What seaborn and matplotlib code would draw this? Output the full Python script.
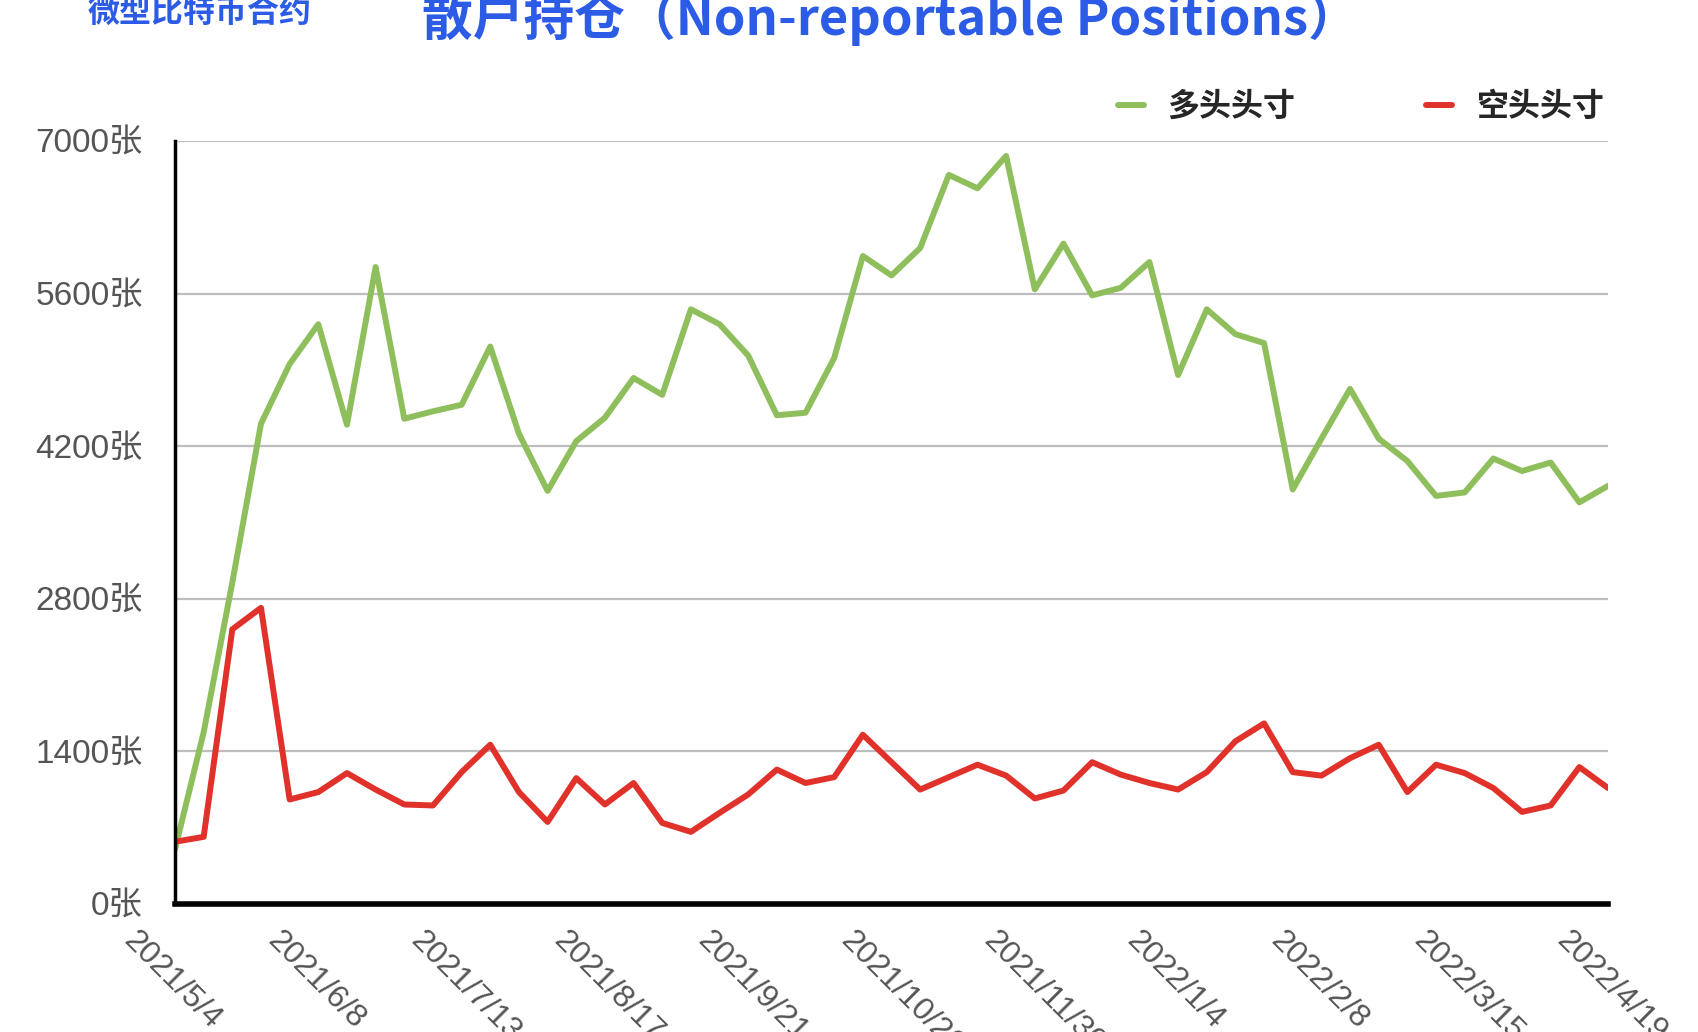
import matplotlib
matplotlib.use('Agg')
import matplotlib.pyplot as plt
import matplotlib.transforms as mtransforms
from matplotlib.lines import Line2D
import seaborn as sns
import pandas as pd

# weekly report dates, 2021/5/4 .. 2022/4/19
dates = pd.date_range('2021-05-04', periods=51, freq='7D')

long_pos = [502, 1575, 2950, 4406, 4954, 5319, 4397, 5844, 4452, 4520,
            4580, 5114, 4315, 3790, 4246, 4461, 4826, 4671, 5456, 5319,
            5032, 4484, 4507, 5009, 5945, 5767, 6018, 6689, 6566, 6863,
            5639, 6059, 5584, 5653, 5890, 4853, 5456, 5228, 5146, 3803,
            4269, 4726, 4269, 4064, 3744, 3776, 4087, 3972, 4050, 3685,
            3836]

short_pos = [571, 616, 2520, 2717, 959, 1027, 1201, 1050, 913, 904,
             1210, 1461, 1027, 753, 1155, 913, 1110, 744, 662, 836,
             1005, 1233, 1110, 1164, 1553, 1301, 1050, 1164, 1278, 1178,
             968, 1041, 1301, 1187, 1110, 1050, 1210, 1493, 1657, 1210,
             1178, 1338, 1461, 1027, 1278, 1201, 1064, 845, 904, 1256,
             1064]

series_names = ['多头头寸', '空头头寸']
series_colors = ['#8fbf5c', '#e0322a']

tick_labels = ['2021/5/4', '2021/6/8', '2021/7/13', '2021/8/17', '2021/9/21',
               '2021/10/26', '2021/11/30', '2022/1/4', '2022/2/8', '2022/3/15',
               '2022/4/19']
y_ticks = [0, 1400, 2800, 4200, 5600, 7000]

df = pd.DataFrame({
    'date': list(dates) * 2,
    'value': long_pos + short_pos,
    'series': [series_names[0]] * len(dates) + [series_names[1]] * len(dates),
})

sns.set_style('white')
plt.rcParams['font.family'] = ['Noto Sans CJK SC', 'DejaVu Sans']
tick_font = ['Liberation Sans', 'Noto Sans CJK SC']

fig = plt.figure(figsize=(16.98, 10.32), dpi=100)
ax = fig.add_axes([175 / 1698, 1 - 904 / 1032, (1608 - 175) / 1698, (904 - 141) / 1032])

sns.lineplot(data=df, x='date', y='value', hue='series', palette=series_colors,
             linewidth=4.3, ax=ax, legend=False)

ax.set_xlim(dates[0], dates[-1])
ax.set_ylim(0, 7000)
ax.set_yticks(y_ticks)
ax.set_yticklabels([f'{v}张' for v in y_ticks])
ax.set_xticks(dates[::5])
ax.set_xticklabels(tick_labels)
ax.set_xlabel('')
ax.set_ylabel('')

ax.grid(axis='y', color='#bdbdbd', linewidth=1.6)
ax.grid(axis='x', visible=False)
ax.set_axisbelow(True)
for side in ['top', 'right']:
    ax.spines[side].set_visible(False)
ax.spines['left'].set_color('black')
ax.spines['left'].set_linewidth(2.5)
ax.spines['bottom'].set_color('black')
ax.spines['bottom'].set_linewidth(4)

ax.tick_params(axis='y', length=0, pad=23, labelsize=24, labelcolor='#555555')
ax.tick_params(axis='x', length=0, pad=0, labelsize=23, labelcolor='#555555')
for lab in ax.get_yticklabels():
    lab.set_family(tick_font)
offset = mtransforms.ScaledTranslation(-36 / 100, -22 / 100, fig.dpi_scale_trans)
for lab in ax.get_xticklabels():
    lab.set_family(tick_font)
    lab.set_rotation(-45)
    lab.set_ha('left')
    lab.set_va('top')
    lab.set_rotation_mode('anchor')
    lab.set_transform(lab.get_transform() + offset)

handles = [Line2D([0], [0], color=c, linewidth=4.3) for c in series_colors]
fig.legend(handles, series_names, loc='center right', ncol=2,
           bbox_to_anchor=(1604 / 1698, 1 - 107 / 1032), frameon=False,
           prop={'size': 23, 'weight': 'bold'}, handlelength=0.8,
           handletextpad=0.75, columnspacing=4.1, borderpad=0, borderaxespad=0)

fig.text(890 / 1698, 1 - 19 / 1032, '散户持仓（Non-reportable Positions）',
         ha='center', va='center', fontsize=36.5, fontweight='heavy', color='#2c5be6')
fig.text(88 / 1698, 1 - 13 / 1032, '微型比特币合约', ha='left', va='center',
         fontsize=23, fontweight='bold', color='#2c5be6')

fig.savefig('out.png', dpi=100, facecolor='white')
